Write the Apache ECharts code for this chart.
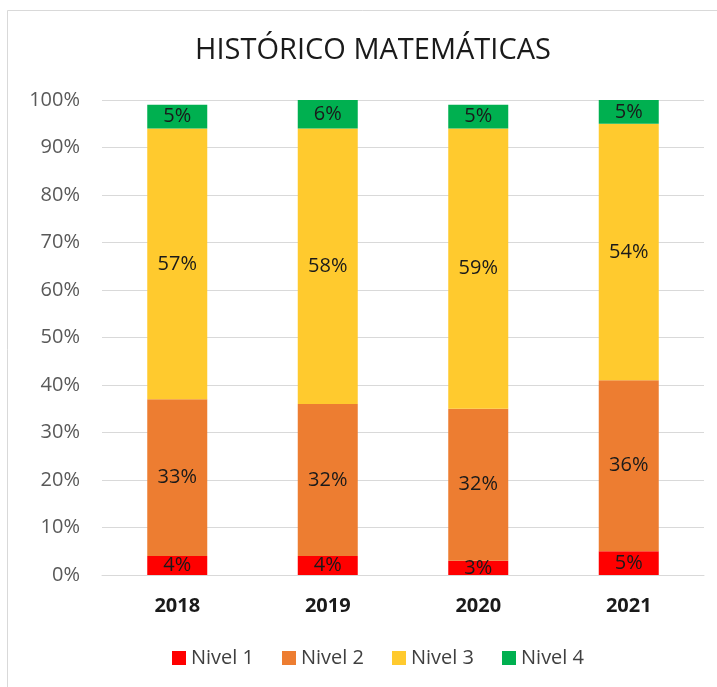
<!DOCTYPE html>
<html>
<head>
<meta charset="utf-8">
<script src="https://cdn.jsdelivr.net/npm/echarts@6/dist/echarts.min.js"></script>
<style>
html, body { margin: 0; padding: 0; background: #fff; }
#chart { width: 717px; height: 687px; }
</style>
</head>
<body>
<div id="chart"></div>
<script>
const years = ['2018', '2019', '2020', '2021'];
const nivel1 = [4, 4, 3, 5];
const nivel2 = [33, 32, 32, 36];
const nivel3 = [57, 58, 59, 54];
const nivel4 = [5, 6, 5, 5];
const seriesNames = ['Nivel 1', 'Nivel 2', 'Nivel 3', 'Nivel 4'];
const seriesColors = ['#FF0000', '#ED7D31', '#FFCA2E', '#00B050'];

const font = 'Open Sans, Liberation Sans, sans-serif';
const chart = echarts.init(document.getElementById('chart'));

const makeSeries = (name, data, color) => ({
	name: name,
	type: 'bar',
	stack: 'total',
	barWidth: 60,
	data: data,
	itemStyle: { color: color },
	label: {
		show: true,
		position: 'inside',
		formatter: '{c}%',
		color: '#1a1a1a',
		fontSize: 20,
		fontFamily: font
	}
});

const option = {
	backgroundColor: '#fff',
	title: {
		text: 'HISTÓRICO MATEMÁTICAS',
		left: 368,
		top: 31,
		textAlign: 'center',
		textStyle: { fontSize: 29, fontWeight: 'normal', color: '#1a1a1a', fontFamily: font }
	},
	legend: {
		data: seriesNames,
		bottom: 14,
		left: 167,
		itemWidth: 14,
		itemHeight: 14,
		itemGap: 28,
		icon: 'rect',
		textStyle: { fontSize: 20, color: '#404040', fontFamily: font }
	},
	grid: { left: 102, right: 13, top: 100, bottom: 112, containLabel: false },
	xAxis: {
		type: 'category',
		data: years,
		axisLine: { lineStyle: { color: '#d9d9d9', width: 1 } },
		axisTick: { show: false },
		axisLabel: { fontSize: 20, fontWeight: 'bold', color: '#1a1a1a', margin: 21, fontFamily: font }
	},
	yAxis: {
		type: 'value',
		min: 0,
		max: 100,
		interval: 10,
		axisLine: { show: false },
		axisTick: { show: false },
		splitLine: { lineStyle: { color: '#d9d9d9' } },
		axisLabel: { formatter: '{value}%', fontSize: 20, color: '#595959', margin: 22, fontFamily: font }
	},
	series: [
		makeSeries(seriesNames[0], nivel1, seriesColors[0]),
		makeSeries(seriesNames[1], nivel2, seriesColors[1]),
		makeSeries(seriesNames[2], nivel3, seriesColors[2]),
		makeSeries(seriesNames[3], nivel4, seriesColors[3])
	],
	graphic: [{
		type: 'rect',
		shape: { x: 7.5, y: 10.5, width: 720, height: 690 },
		style: { fill: 'none', stroke: '#d9d9d9', lineWidth: 1 },
		silent: true
	}]
};

chart.setOption(option);
</script>
</body>
</html>
